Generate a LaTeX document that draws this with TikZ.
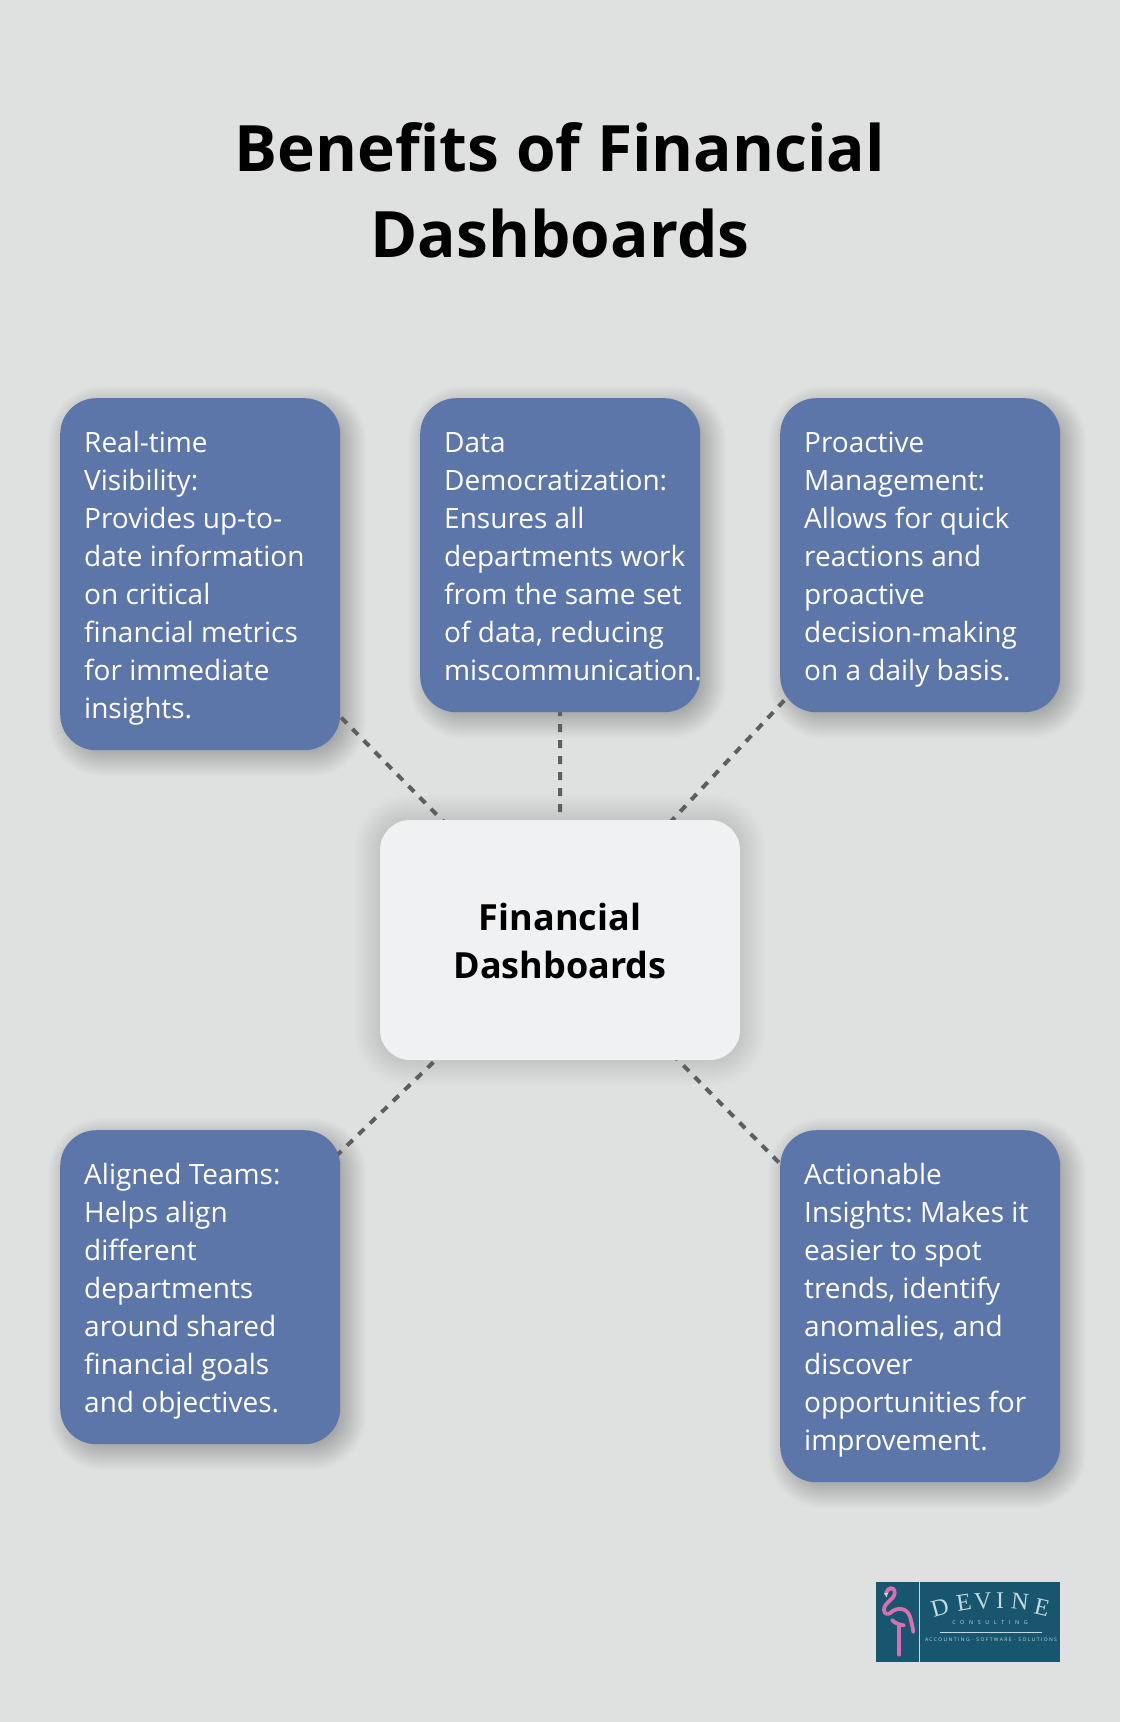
\documentclass[tikz,border=0pt]{standalone}
\usepackage{fontspec}
\setmainfont{Open Sans}
\newfontfamily\logofont{Liberation Serif}
\newfontfamily\logospaced[LetterSpace=28]{Open Sans}
\usetikzlibrary{calc,backgrounds}

\definecolor{pagegrey}{HTML}{DFE1E0}
\definecolor{benefitblue}{HTML}{5D76A9}
\definecolor{hubwhite}{HTML}{EFF1F3}
\definecolor{linkgrey}{HTML}{5E5E5E}
\definecolor{logoteal}{HTML}{17566E}
\definecolor{logopink}{HTML}{D96FAE}
\definecolor{logopale}{HTML}{C4D8DE}

\tikzset{
	benefit/.style={rectangle, rounded corners=36pt, fill=benefitblue, text=white, anchor=north west,
		text width=232pt, inner sep=24pt, align=flush left, font=\fontsize{28}{38}\selectfont,
		execute at begin node={\spaceskip=0.26em\relax\rule{0pt}{30.6pt}}, execute at end node={\rule[-7.4pt]{0pt}{7.4pt}}},
	hub/.style={rectangle, rounded corners=30pt, fill=hubwhite, minimum width=360pt, minimum height=240pt,
		inner sep=0pt, align=center, font=\fontsize{36}{48}\selectfont\bfseries},
	link/.style={draw=linkgrey, line width=4pt, dash pattern=on 8pt off 8pt},
	logotext/.style={text=logopale, inner sep=0pt}
}

% node, x offset, y offset, blur radius, base corner, opacity per layer
\newcommand{\softshadow}[6]{
	\foreach \layer [evaluate=\layer as \cornerr using {max(#5+\layer,2)}] in {-#4,...,#4}
		\fill[black, fill opacity=#6, rounded corners=\cornerr pt]
			($(#1.north west)+(#2-\layer,#3-\layer)$) rectangle ($(#1.south east)+(#2+\layer,#3+\layer)$);
}

\begin{document}
\begin{tikzpicture}[x=1pt,y=-1pt]

	\begin{pgfonlayer}{background}
		\fill[pagegrey] (0,0) rectangle (1120,1722);
	\end{pgfonlayer}
	\useasboundingbox (0,0) rectangle (1120,1722);

	\node[align=center, font=\fontsize{64}{86}\selectfont\bfseries] (title) at (560,190) {Benefits of Financial\\Dashboards};

	\node[hub] (dashboards) at (560,940) {\rule{0pt}{30pt}Financial\\Dashboards};

	\node[benefit] (realtime) at (60,398) {Real-time\\Visibility:\\Provides up-to-\\date information\\on critical\\financial metrics\\for immediate\\insights.};
	\node[benefit] (democratization) at (420,398) {Data\\Democratization:\\Ensures all\\departments~work\\from~the~same~set\\of data, reducing\\miscommunication.};
	\node[benefit] (proactive) at (780,398) {Proactive\\Management:\\Allows for quick\\reactions and\\proactive\\decision-making\\on~a~daily~basis.};
	\node[benefit] (aligned) at (60,1130) {Aligned Teams:\\Helps align\\different\\departments\\around shared\\financial goals\\and~objectives.};
	\node[benefit] (actionable) at (780,1130) {Actionable\\Insights:~Makes~it\\easier to spot\\trends, identify\\anomalies, and\\discover\\opportunities~for\\improvement.};

	\begin{pgfonlayer}{background}
		\softshadow{dashboards}{0}{0}{26}{30}{0.0045}
		\foreach \benefitname in {realtime,democratization,proactive,aligned,actionable}{
			\softshadow{\benefitname}{7}{7}{19}{36}{0.0085}
			\draw[link] (dashboards.center) -- (\benefitname.center);
		}
	\end{pgfonlayer}

	% logo
	\node[rectangle, fill=logoteal, minimum width=184pt, minimum height=80pt, inner sep=0pt, anchor=north west] (logo) at (876,1582) {};
	\coordinate (rulestart) at (919,1582);
	\coordinate (ruleend) at (919,1662);
	\draw[logopale, line width=0.8pt] (rulestart) -- (ruleend);
	\begin{scope}[shift={(860,1560)},x=0.3333pt,y=-0.3333pt]
		\draw[logopink, line width=3.8pt, line cap=round] (78,100) .. controls (82,82) and (104,78) .. (104,98) .. controls (104,120) and (72,125) .. (72,150) .. controls (72,162) and (84,165) .. (92,158) .. controls (108,142) and (140,140) .. (150,170) .. controls (154,185) and (158,200) .. (160,216);
		\draw[logopink, line width=3.8pt, line cap=round] (96,180) .. controls (105,190) and (120,195) .. (132,196);
		\draw[logopink, line width=3.8pt, line cap=round] (118,196) -- (118,284);
		\fill[logopale] (72,100) -- (84,98) -- (80,112) -- cycle;
	\end{scope}
	\foreach \letter/\letterx/\lettery/\letterrot [count=\letterno] in {D/940/1608/15,E/964/1603/9,V/983/1601.5/4,I/1000/1601/0,N/1020/1602/-6,E/1042/1607/-13}
		\node[logotext, font=\logofont\fontsize{24}{24}\selectfont, rotate=\letterrot] (devine\letterno) at (\letterx,\lettery) {\letter};
	\node[logotext, font=\logospaced\fontsize{5.4}{6}\selectfont] (consulting) at (990,1623) {\addfontfeature{LetterSpace=86}CONSULTING};
	\coordinate (logolinestart) at (940,1632);
	\coordinate (logolineend) at (1042,1632);
	\draw[logopale, line width=0.4pt] (logolinestart) -- (logolineend);
	\node[logotext, font=\logospaced\fontsize{5}{6}\selectfont] (services) at (991,1640) {ACCOUNTING · SOFTWARE · SOLUTIONS};

\end{tikzpicture}
\end{document}
